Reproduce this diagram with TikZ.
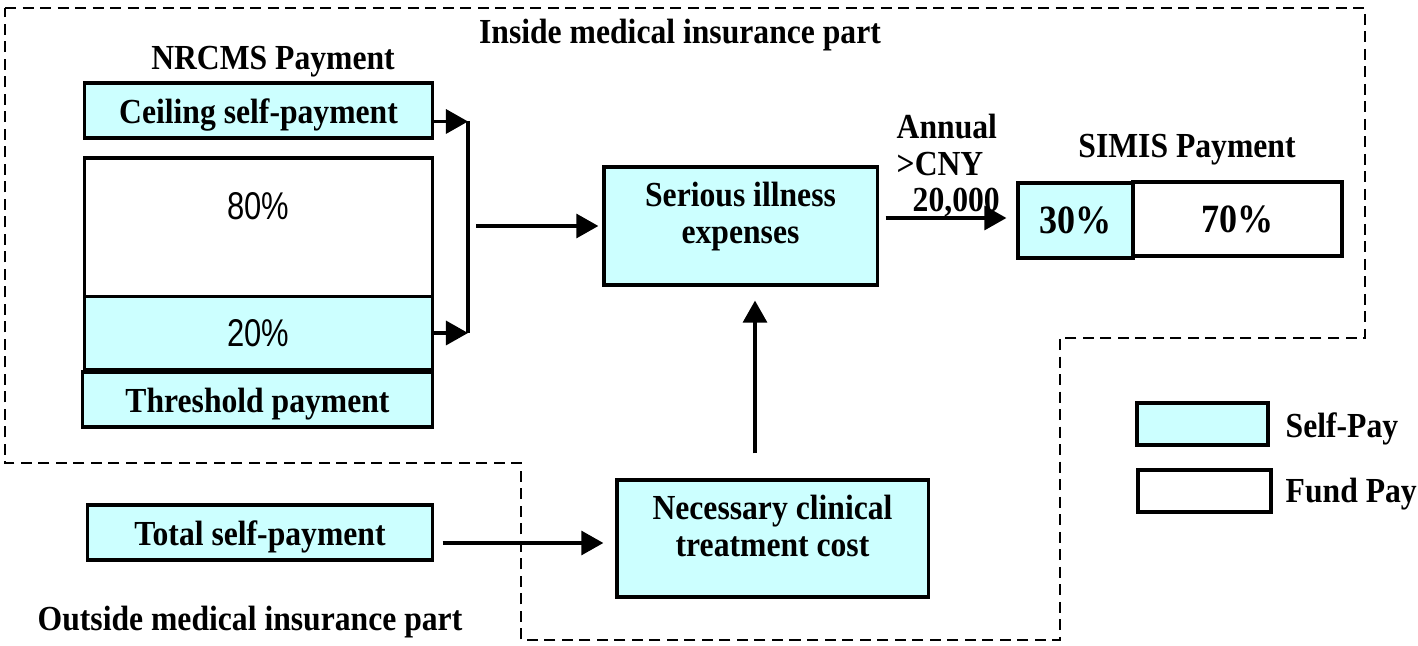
\documentclass[tikz,border=0pt]{standalone}
\usepackage{fontspec}
\setmainfont[FakeStretch=0.9]{Liberation Serif}
\newfontfamily\narrowsans[FakeStretch=0.8]{Liberation Sans}
\usetikzlibrary{arrows.meta}
\definecolor{selfpay}{HTML}{CCFFFF}

\begin{document}
\begin{tikzpicture}[x=0.01cm, y=-0.01cm,
	font=\fontsize{10}{10.5}\selectfont\bfseries,
	box/.style={draw, line width=0.9pt, inner sep=0pt, align=center},
	selfbox/.style={box, fill=selfpay},
	fundbox/.style={box, fill=white},
	oneline/.style={text height=0.33cm, text depth=0.08cm},
	twoline/.style={text depth=0.26cm},
	pct/.style={font=\fontsize{11}{12}\selectfont\narrowsans},
	bigpct/.style={font=\fontsize{11.4}{12}\selectfont\bfseries},
	arr/.style={line width=0.9pt, -{Triangle[length=0.22cm, width=0.24cm]}},
	zone/.style={line width=0.8pt, dash pattern=on 0.11cm off 0.065cm}]
	\useasboundingbox (0,0) rectangle (1418,646);

	% insurance zones
	\draw[zone] (5,8) -- (1365,8) -- (1365,338) -- (1060,338) -- (1060,640)
		-- (521,640) -- (521,463) -- (5,463) -- cycle;
	\node (inside)  at (680,35)  {Inside medical insurance part};
	\node (outside) at (250,622) {Outside medical insurance part};

	% NRCMS
	\node (nrcms) at (273,62) {NRCMS Payment};
	\node[selfbox, oneline, minimum width=3.47cm, minimum height=0.55cm] (ceil)   at (258.5,110.5) {Ceiling self-payment};
	\node[fundbox, minimum width=3.47cm, minimum height=1.39cm] (fund80) at (258.5,227.5) {};
	\node[pct] (p80) at (258,206) {80\%};
	\node[selfbox, minimum width=3.47cm, minimum height=0.73cm, pct] (self20) at (258.5,333) {20\%};
	\node[selfbox, oneline, minimum width=3.49cm, minimum height=0.55cm] (thresh) at (257.5,399.5) {Threshold payment};

	\coordinate (jtop) at (468,121.5);
	\coordinate (jbot) at (468,333);
	\coordinate (jmid) at (476,226);

	% main boxes
	\node[selfbox, twoline, minimum width=2.73cm, minimum height=1.18cm] (serious)  at (740.5,226) {Serious illness\\expenses};
	\node[selfbox, twoline, minimum width=3.11cm, minimum height=1.17cm] (clinical) at (772.5,538.5) {Necessary clinical\\treatment cost};
	\node[selfbox, oneline, minimum width=3.44cm, minimum height=0.55cm] (total)    at (260,532.5) {Total self-payment};

	% SIMIS
	\node (simis) at (1187,150) {SIMIS Payment};
	\node[selfbox, minimum width=1.15cm, minimum height=0.75cm, bigpct] (simis30) at (1075.5,220.5) {30\%};
	\node[fundbox, minimum width=2.09cm, minimum height=0.74cm, bigpct] (fund70)  at (1237.5,219)   {70\%};
	\node[anchor=north west, align=left, inner sep=0pt] (annual) at (896,113) {Annual\\>CNY\\\hspace*{0.16cm}20,000};

	% legend
	\node[selfbox, minimum width=1.31cm, minimum height=0.42cm] (legself) at (1202.5,424) {};
	\node[fundbox, minimum width=1.33cm, minimum height=0.42cm] (legfund) at (1204.5,491) {};
	\node[anchor=west, inner sep=0pt] (selflbl) at (1285,429) {Self-Pay};
	\node[anchor=west, inner sep=0pt] (fundlbl) at (1285,494) {Fund Pay};

	% flows
	\draw[arr] (ceil.east |- jtop) -- (jtop);
	\draw[arr] (self20.east) -- (jbot);
	\draw[line width=0.9pt] (jtop) -- (jbot);
	\draw[arr, shorten >=0.04cm] (jmid) -- (serious.west);
	\draw[arr, shorten <=0.07cm, shorten >=0.1cm] (serious.east |- 0,218) -- (simis30.west |- 0,218);
	\draw[arr, shorten <=0.25cm, shorten >=0.14cm] (clinical.north -| 755,0) -- (serious.south -| 755,0);
	\draw[arr, shorten <=0.09cm, shorten >=0.12cm] (total.east |- 0,543) -- (clinical.west |- 0,543);
\end{tikzpicture}
\end{document}
